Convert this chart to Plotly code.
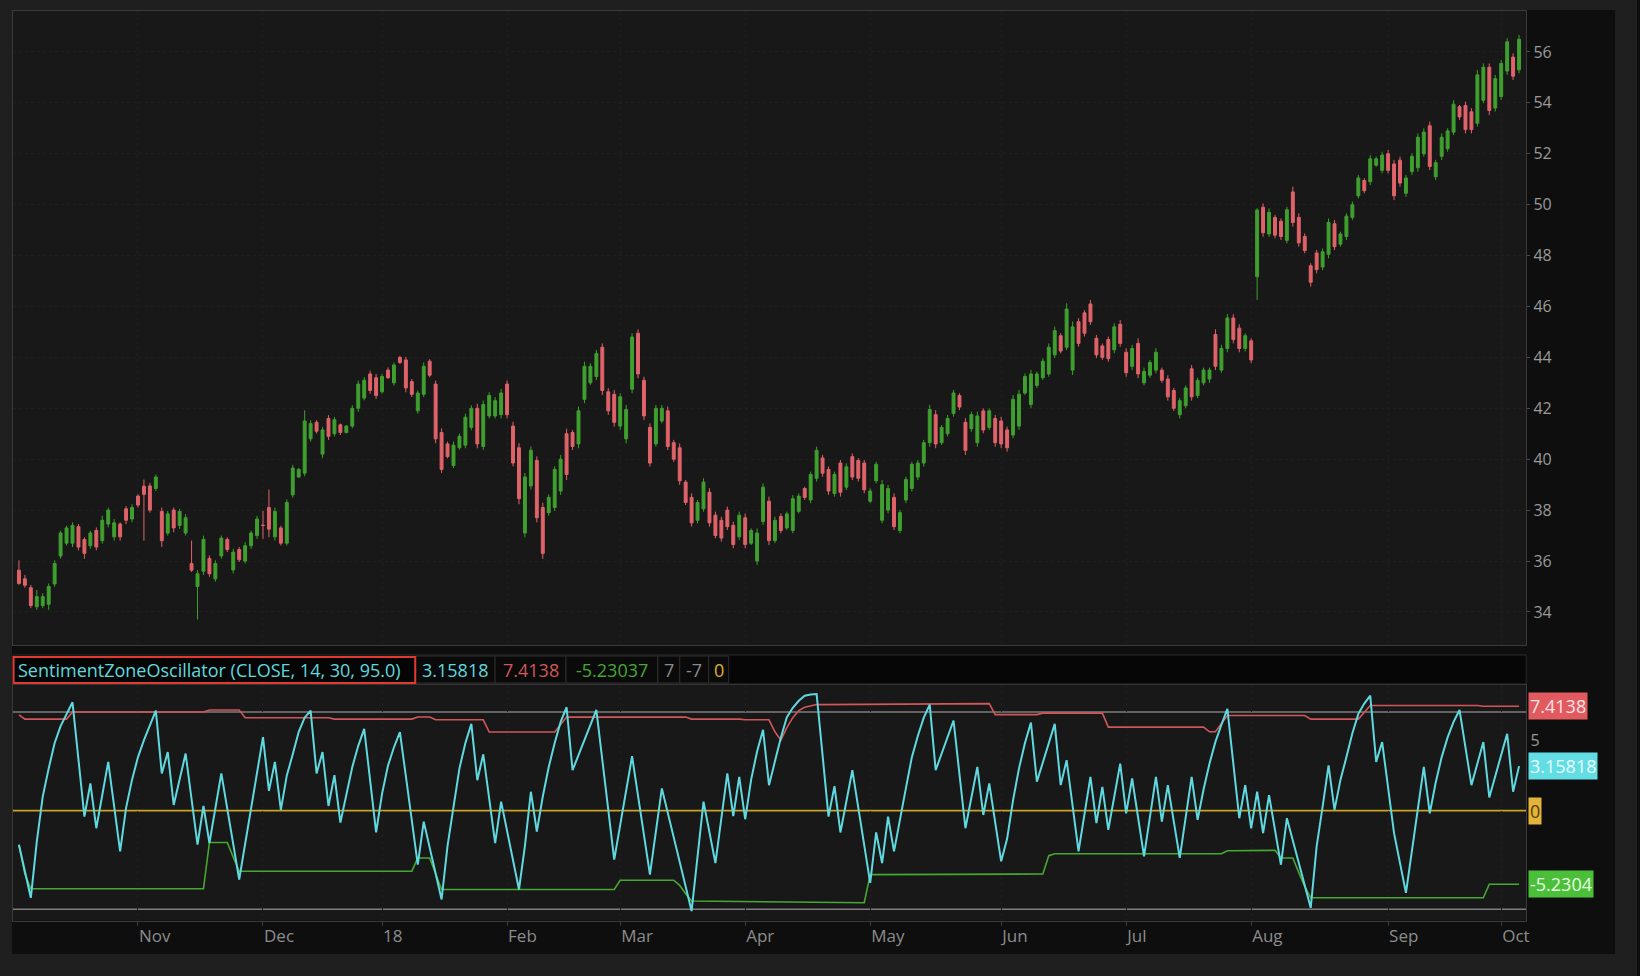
import plotly.graph_objects as go

W, H = 1640, 976

# ---------------- price data (one bar per trading day, Oct-2017 .. Oct-2018) ----------------
open_ = [
    35.64, 35.30, 34.95, 34.20, 34.25, 34.30, 35.10, 36.20, 36.70, 36.70,
    37.35, 36.85, 36.60, 37.20, 36.80, 37.45, 36.95, 37.45, 38.05, 37.65,
    38.55, 38.94, 38.95, 38.85, 37.95, 37.10, 38.00, 37.40, 37.10, 35.90,
    35.00, 35.60, 36.10, 35.30, 36.20, 36.85, 35.65, 36.45, 36.00, 36.60,
    37.00, 37.40, 38.10, 36.95, 37.30, 36.70, 38.60, 39.30, 39.45, 40.80,
    41.45, 40.20, 41.60, 41.00, 41.35, 41.05, 41.30, 42.00, 42.40, 43.35,
    43.20, 42.65, 43.50, 43.00, 44.00, 43.90, 43.05, 41.90, 42.55, 43.85,
    42.95, 41.05, 40.60, 39.75, 40.45, 40.55, 41.25, 42.00, 40.50, 41.70,
    41.70, 41.75, 42.95, 41.30, 40.45, 37.10, 38.95, 39.95, 38.10, 37.90,
    38.10, 38.75, 41.00, 41.05, 40.60, 42.35, 43.00, 43.25, 44.40, 42.65,
    42.55, 41.30, 40.80, 42.75, 44.95, 43.10, 41.25, 40.60, 41.50, 41.90,
    40.65, 40.45, 39.10, 38.50, 37.60, 38.05, 38.70, 37.80, 37.60, 38.00,
    37.40, 36.95, 37.70, 36.70, 36.00, 37.55, 38.35, 36.80, 37.75, 37.30,
    37.20, 37.95, 38.85, 38.40, 39.25, 40.05, 39.60, 38.65, 39.85, 38.90,
    40.10, 39.95, 39.85, 38.35, 39.15, 37.60, 38.00, 38.50, 37.20, 38.40,
    38.85, 39.30, 39.85, 40.65, 41.75, 40.65, 41.00, 41.80, 42.50, 41.45,
    41.20, 40.65, 41.90, 41.25, 41.60, 41.50, 41.15, 40.95, 41.30, 42.60,
    42.15, 42.90, 43.20, 43.35, 44.10, 44.85, 44.40, 43.50, 45.40, 45.75,
    46.10, 44.75, 44.45, 44.70, 44.30, 45.30, 44.20, 43.65, 44.55, 43.00,
    43.30, 43.50, 43.50, 43.15, 42.70, 41.75, 42.10, 43.55, 42.50, 43.00,
    43.15, 44.90, 43.50, 44.35, 45.55, 45.15, 44.35, 44.65, 47.17, 49.90,
    48.85, 49.50, 49.35, 48.60, 50.50, 49.50, 48.75, 47.60, 48.10, 47.55,
    48.05, 49.25, 48.45, 48.75, 49.50, 50.35, 50.95, 50.90, 51.55, 51.35,
    52.00, 51.60, 51.75, 50.45, 51.30, 51.45, 52.00, 53.10, 51.10, 51.90,
    52.20, 52.85, 53.85, 53.90, 53.65, 53.20, 54.10, 55.40, 53.80, 54.25,
    55.25, 55.80, 55.30,
]
high = [
    36.03, 35.45, 35.06, 34.86, 34.73, 35.12, 36.03, 37.19, 37.39, 37.52,
    37.45, 36.93, 37.19, 37.32, 37.78, 38.10, 37.65, 37.52, 38.16, 38.23,
    38.62, 39.20, 39.07, 39.40, 38.10, 37.97, 38.10, 38.04, 37.84, 36.80,
    35.64, 37.00, 36.22, 36.03, 37.00, 36.93, 36.48, 36.55, 36.74, 37.19,
    37.78, 37.97, 38.81, 38.10, 37.39, 38.42, 39.78, 39.65, 41.92, 41.53,
    41.53, 41.27, 41.73, 41.66, 41.40, 41.34, 42.12, 43.09, 43.22, 43.48,
    43.35, 43.35, 43.61, 43.80, 44.06, 44.02, 43.15, 42.70, 43.80, 43.93,
    43.09, 41.21, 40.69, 40.69, 41.01, 41.79, 42.12, 42.18, 42.31, 42.63,
    42.44, 42.76, 43.09, 41.47, 40.63, 39.46, 40.50, 40.11, 38.29, 38.62,
    39.72, 40.17, 41.20, 41.15, 42.07, 43.83, 43.77, 44.29, 44.55, 42.79,
    42.72, 42.59, 42.13, 44.95, 45.10, 43.24, 41.41, 42.13, 42.13, 42.07,
    40.76, 40.62, 39.18, 38.66, 38.40, 39.25, 38.86, 37.94, 37.74, 38.14,
    37.55, 37.94, 37.87, 37.28, 37.28, 39.05, 38.53, 37.74, 37.87, 37.94,
    38.59, 38.66, 38.92, 39.51, 40.49, 40.17, 39.71, 39.51, 39.97, 39.84,
    40.23, 40.04, 39.97, 38.86, 39.90, 39.18, 38.99, 38.66, 38.01, 39.31,
    39.90, 39.97, 40.76, 42.13, 41.93, 41.34, 41.74, 42.72, 42.59, 41.61,
    41.87, 41.87, 42.00, 42.00, 41.74, 41.67, 41.28, 42.52, 42.72, 43.37,
    43.51, 43.44, 43.97, 44.55, 45.21, 44.95, 46.13, 45.41, 45.54, 45.86,
    46.26, 44.88, 44.55, 44.82, 45.34, 45.47, 44.36, 44.49, 44.75, 43.60,
    43.90, 44.36, 43.60, 43.30, 42.80, 42.40, 42.90, 43.70, 43.20, 43.60,
    43.60, 45.10, 44.50, 45.70, 45.70, 45.30, 44.95, 44.75, 49.86, 50.05,
    49.86, 49.60, 49.46, 49.92, 50.71, 49.66, 48.87, 47.70, 48.22, 48.28,
    49.46, 49.40, 48.94, 49.66, 50.12, 51.17, 51.04, 51.95, 51.89, 52.08,
    52.15, 51.76, 51.89, 51.17, 52.02, 52.80, 53.00, 53.26, 51.76, 52.80,
    53.00, 54.10, 53.92, 54.05, 53.79, 55.29, 55.55, 55.55, 55.10, 55.69,
    56.54, 55.95, 56.67,
]
low = [
    35.06, 34.95, 34.15, 34.08, 34.15, 34.08, 34.99, 36.09, 36.61, 36.55,
    36.42, 36.09, 36.48, 36.42, 36.68, 37.32, 36.80, 36.80, 37.45, 37.52,
    38.10, 36.80, 37.90, 38.75, 36.55, 37.00, 37.13, 37.26, 37.00, 35.57,
    33.70, 35.45, 35.38, 35.19, 36.09, 36.35, 35.51, 35.96, 35.90, 36.48,
    36.87, 36.87, 36.93, 36.80, 36.61, 36.61, 38.49, 39.27, 39.33, 40.69,
    41.01, 40.04, 40.76, 40.89, 40.95, 41.01, 41.21, 41.86, 42.31, 42.57,
    42.37, 42.57, 43.15, 42.89, 43.74, 42.63, 42.44, 41.79, 42.44, 43.22,
    40.63, 39.46, 40.04, 39.65, 40.37, 40.43, 41.14, 40.43, 40.37, 41.60,
    41.60, 41.60, 41.60, 39.72, 38.23, 36.93, 38.81, 37.52, 36.09, 37.78,
    37.97, 38.60, 39.18, 40.36, 40.43, 42.20, 42.92, 43.11, 42.52, 41.74,
    41.28, 41.15, 40.62, 42.59, 43.18, 41.54, 39.71, 40.49, 41.41, 40.36,
    39.90, 38.99, 38.20, 37.35, 37.48, 37.94, 37.35, 36.89, 36.76, 37.22,
    36.50, 36.83, 36.50, 36.63, 35.84, 37.42, 36.63, 36.70, 37.09, 37.22,
    37.09, 37.87, 38.40, 38.27, 39.12, 39.31, 38.60, 38.53, 38.53, 38.79,
    39.18, 39.12, 38.66, 38.27, 39.05, 37.48, 37.87, 37.22, 37.09, 38.27,
    38.73, 39.18, 39.71, 40.49, 40.43, 40.56, 40.89, 41.67, 41.93, 40.17,
    41.08, 40.49, 41.02, 41.15, 40.49, 40.43, 40.30, 40.82, 41.15, 42.52,
    42.00, 42.79, 43.11, 43.24, 43.97, 44.16, 44.29, 43.31, 44.42, 44.82,
    45.27, 43.97, 43.90, 43.83, 44.16, 44.42, 43.24, 43.50, 43.18, 42.90,
    43.20, 43.37, 43.00, 42.30, 41.90, 41.60, 42.00, 42.30, 42.40, 42.90,
    43.00, 43.50, 43.40, 44.20, 44.55, 44.20, 44.23, 43.77, 46.26, 48.74,
    48.74, 48.68, 48.61, 48.48, 49.14, 48.35, 48.09, 46.78, 47.30, 47.43,
    47.89, 48.22, 48.35, 48.61, 49.40, 50.25, 50.45, 50.77, 51.49, 51.23,
    51.23, 50.18, 50.71, 50.30, 51.17, 51.30, 51.89, 51.36, 50.97, 51.76,
    52.08, 52.74, 53.33, 52.80, 52.80, 53.07, 53.98, 53.52, 53.66, 54.11,
    55.10, 54.90, 55.16,
]
close = [
    35.12, 35.05, 34.25, 34.60, 34.60, 35.00, 35.90, 37.10, 37.30, 37.40,
    36.55, 36.30, 37.10, 36.55, 37.60, 38.00, 37.50, 36.95, 37.60, 38.10,
    38.20, 38.62, 38.00, 39.30, 36.80, 37.85, 37.30, 37.95, 37.70, 35.64,
    35.50, 36.85, 35.50, 35.90, 36.90, 36.45, 36.35, 36.05, 36.60, 37.10,
    37.65, 37.40, 37.25, 37.95, 36.70, 38.30, 39.65, 39.60, 41.50, 41.40,
    41.10, 41.15, 40.90, 41.55, 41.05, 41.30, 42.00, 42.95, 43.10, 42.70,
    42.50, 43.25, 43.20, 43.70, 43.80, 42.80, 42.55, 42.60, 43.65, 43.30,
    40.80, 39.60, 40.10, 40.55, 40.90, 41.65, 42.00, 40.60, 42.15, 42.50,
    42.30, 42.60, 41.75, 39.85, 38.45, 39.30, 40.35, 37.70, 36.30, 38.50,
    39.60, 40.00, 39.40, 40.50, 41.90, 43.65, 43.65, 44.15, 42.70, 41.90,
    41.45, 42.45, 41.95, 44.80, 43.35, 41.70, 39.85, 42.00, 42.00, 40.50,
    40.00, 39.15, 38.30, 37.50, 38.30, 39.10, 37.50, 37.00, 36.90, 37.35,
    36.65, 37.80, 36.65, 37.20, 37.10, 38.90, 36.80, 37.60, 37.20, 37.85,
    38.45, 38.55, 38.50, 39.40, 40.35, 39.45, 38.75, 39.40, 38.70, 39.70,
    39.30, 39.25, 38.80, 38.75, 39.80, 39.00, 38.85, 37.35, 37.90, 39.20,
    39.80, 39.85, 40.65, 41.95, 40.60, 41.25, 41.60, 42.60, 42.05, 40.35,
    41.75, 41.70, 41.15, 41.90, 40.65, 40.60, 40.45, 42.35, 42.55, 43.25,
    43.35, 43.35, 43.85, 44.40, 45.05, 44.25, 45.90, 45.20, 44.55, 44.95,
    45.40, 44.10, 44.00, 43.95, 45.20, 44.55, 43.40, 44.35, 43.35, 43.45,
    43.80, 44.20, 43.10, 42.45, 42.00, 42.30, 42.80, 42.45, 43.10, 43.50,
    43.50, 43.65, 44.35, 45.55, 44.70, 44.35, 44.85, 43.90, 49.79, 48.90,
    49.70, 48.80, 48.75, 49.80, 49.30, 48.50, 48.20, 46.95, 47.45, 48.15,
    49.30, 48.35, 48.85, 49.55, 50.00, 51.05, 50.55, 51.80, 51.80, 51.95,
    51.35, 50.35, 50.85, 51.05, 51.90, 52.65, 52.85, 51.50, 51.65, 52.65,
    52.90, 53.95, 53.45, 52.95, 52.95, 55.10, 55.40, 53.70, 54.95, 55.55,
    56.40, 55.05, 56.50,
]
bar_idx = list(range(len(close)))

# month starts (bar index) and their axis labels
month_idx = [20, 41, 61, 82, 101, 122, 143, 165, 186, 207, 230, 249]
month_lbl = ["Nov", "Dec", "18", "Feb", "Mar", "Apr", "May", "Jun", "Jul", "Aug", "Sep", "Oct"]
price_ticks = [34, 36, 38, 40, 42, 44, 46, 48, 50, 52, 54, 56]

# ---------------- SentimentZoneOscillator (vertices of each line, bar index / value) ----------------
szo_idx = [0, 2, 3, 4, 5, 6, 7, 8, 9, 11, 12, 13, 15, 17, 18, 19, 20, 21, 22, 23, 24, 25, 26, 28, 30, 31,
           32, 34, 37, 41, 42, 43, 44, 45, 46, 47, 48, 49, 50, 51, 52, 53, 54, 55, 56, 57, 58, 60, 61, 62,
           63, 64, 67, 68, 71, 72, 73, 74, 75, 76, 77, 78, 80, 81, 84, 85, 86, 87, 88, 89, 90, 91, 92, 93,
           97, 100, 103, 106, 108, 113, 115, 117, 119, 120, 121, 122, 123, 124, 125, 126, 127, 128, 129,
           130, 131, 132, 133, 134, 136, 137, 138, 140, 143, 144, 145, 146, 147, 148, 149, 150, 151, 152,
           153, 154, 157, 159, 161, 162, 163, 165, 166, 167, 168, 169, 170, 171, 174, 175, 176, 178, 180,
           181, 182, 183, 185, 186, 187, 189, 191, 192, 193, 195, 197, 198, 199, 200, 201, 202, 203, 205,
           206, 207, 208, 209, 210, 212, 213, 217, 218, 219, 220, 221, 222, 223, 224, 225, 226, 227, 228,
           229, 231, 233, 236, 237, 238, 239, 240, 241, 242, 244, 246, 247, 250, 251, 252]
szo_val = [-2.42, -6.19, -2.2, 1.0, 3.0, 4.8, 6.0, 6.9, 7.69, -0.42, 1.93, -1.25, 3.46, -2.89, 0.2, 2.2, 3.8,
           5.0, 6.1, 7.1, 2.64, 4.16, 0.4, 4.05, -2.42, 0.33, -2.3, 2.64, -4.89, 5.22, 1.4, 3.46, 0.05, 2.5,
           4.0, 5.6, 6.6, 7.1, 2.64, 4.16, 0.33, 2.52, -0.85, 1.2, 3.1, 4.6, 5.81, -1.55, 1.2, 3.2, 4.5,
           5.58, -3.84, -0.78, -6.31, -2.5, 0.28, 3.0, 4.8, 6.16, 2.16, 4.0, -2.3, 0.64, -5.6, -2.5, 1.34,
           -1.48, 1.0, 3.1, 4.8, 6.3, 7.34, 2.87, 7.15, -3.48, 3.86, -4.54, 1.58, -7.13, 0.64, -3.72, 2.64,
           -0.38, 2.4, -0.61, 2.2, 4.2, 5.74, 1.81, 3.5, 5.2, 6.64, 7.3, 7.8, 8.16, 8.25, 8.28, -0.42, 1.74,
           -1.55, 2.87, -5.13, -1.55, -3.72, -0.42, -2.89, -0.5, 1.6, 3.8, 5.3, 6.6, 7.53, 2.87, 6.4, -1.25,
           3.1, -0.31, 1.93, -3.6, -2.0, 0.75, 3.0, 4.8, 6.25, 2.05, 6.16, 1.81, 3.58, -2.89, 2.4, -0.89,
           1.69, -1.36, 3.34, -0.19, 2.28, -3.25, 2.4, -0.78, 1.81, -3.36, 2.4, -0.66, 1.5, 3.34, 4.9, 6.1,
           7.22, -0.54, 1.81, -1.25, 1.34, -1.6, 1.1, -3.84, -0.54, -6.9, -2.54, 0.28, 3.22, 0.05, 2.2, 3.8,
           5.5, 6.87, 7.6, 8.16, 3.46, 4.87, -1.6, -5.84, 3.1, -0.19, 2.0, 3.8, 5.2, 6.3, 7.15, 1.81, 4.87,
           0.94, 5.46, 1.34, 3.16]
upper_idx = [0, 1, 8, 9, 31, 32, 37, 38, 52, 53, 66, 67, 69, 70, 78, 79, 90, 91, 92, 112, 113, 121, 122, 126,
             127, 128, 129, 130, 131, 132, 134, 163, 164, 171, 172, 182, 183, 199, 200, 201, 202, 203, 216,
             217, 225, 226, 227, 245, 246, 252]
upper_val = [6.8, 6.5, 6.5, 7.0, 7.0, 7.15, 7.15, 6.6, 6.6, 6.5, 6.5, 6.65, 6.65, 6.45, 6.45, 5.58, 5.58, 6.1,
             6.64, 6.64, 6.5, 6.5, 6.45, 6.45, 5.6, 5.0, 5.9, 6.6, 7.1, 7.34, 7.53, 7.6, 6.82, 6.82, 6.92,
             6.92, 5.93, 5.93, 5.6, 5.6, 6.2, 6.75, 6.75, 6.5, 6.5, 7.0, 7.46, 7.46, 7.41, 7.41]
lower_idx = [0, 1, 2, 31, 32, 35, 36, 37, 66, 67, 69, 70, 71, 100, 101, 110, 111, 112, 113, 142, 143, 172,
             173, 174, 202, 203, 211, 212, 214, 215, 216, 217, 246, 247, 252]
lower_val = [-2.42, -4.5, -5.55, -5.55, -2.26, -2.26, -3.3, -4.3, -4.3, -3.36, -3.36, -4.5, -5.6, -5.6, -4.94,
             -4.94, -5.3, -5.9, -6.42, -6.54, -4.54, -4.5, -3.2, -3.06, -3.06, -2.85, -2.82, -3.36, -3.36,
             -4.4, -5.4, -6.19, -6.19, -5.23, -5.23]
osc_levels = [7, -7]
last_vals = {"szo": 3.15818, "upper": 7.4138, "lower": -5.2304, "zero": 0}
header_vals = ["3.15818", "7.4138", "-5.23037", "7", "-7", "0"]

# ---------------- colours ----------------
GREEN = "#3f9f2f"
RED = "#e0636a"
CYAN = "#5fd9df"
BAND_RED = "#d0575a"
BAND_GREEN = "#46a832"
YELLOW = "#c9a227"
GRID = "#1f1f1f"
TXT = "#9a9a9a"
FONT = "Open Sans"
OUTER = "#1f1f1f"


def fx(px):
    return px / W


def fy(py):
    return 1 - py / H


fig = go.Figure()

fig.add_trace(go.Candlestick(
    x=bar_idx, open=open_, high=high, low=low, close=close,
    increasing=dict(line=dict(color=GREEN, width=1), fillcolor=GREEN),
    decreasing=dict(line=dict(color=RED, width=1), fillcolor=RED),
    whiskerwidth=0, xaxis="x", yaxis="y", showlegend=False, hoverinfo="skip",
))

fig.add_trace(go.Scatter(x=upper_idx, y=upper_val, mode="lines", line=dict(color=BAND_RED, width=1.6),
                         xaxis="x2", yaxis="y2", showlegend=False, hoverinfo="skip"))
fig.add_trace(go.Scatter(x=lower_idx, y=lower_val, mode="lines", line=dict(color=BAND_GREEN, width=1.6),
                         xaxis="x2", yaxis="y2", showlegend=False, hoverinfo="skip"))
fig.add_trace(go.Scatter(x=szo_idx, y=szo_val, mode="lines", line=dict(color=CYAN, width=2),
                         xaxis="x2", yaxis="y2", showlegend=False, hoverinfo="skip"))

PX_L, PX_R = 13, 1529
xr = [-1, len(close) + 0.2]
dom_x = [fx(PX_L), fx(PX_R)]

common_x = dict(range=xr, domain=dom_x, showline=True, linecolor="#3a3a3a", mirror=True,
                tickmode="array", zeroline=False,
                showgrid=True, gridcolor=GRID, griddash="dot", gridwidth=1)

shapes = [
    # light outer frame around the dark application area
    dict(type="rect", xref="paper", yref="paper", x0=0, x1=1, y0=fy(10), y1=1,
         fillcolor=OUTER, line=dict(width=0), layer="below"),
    dict(type="rect", xref="paper", yref="paper", x0=0, x1=1, y0=0, y1=fy(954),
         fillcolor=OUTER, line=dict(width=0), layer="below"),
    dict(type="rect", xref="paper", yref="paper", x0=0, x1=fx(12), y0=0, y1=1,
         fillcolor=OUTER, line=dict(width=0), layer="below"),
    dict(type="rect", xref="paper", yref="paper", x0=fx(1618), x1=1, y0=0, y1=1,
         fillcolor=OUTER, line=dict(width=0), layer="below"),
    # header strip
    dict(type="rect", xref="paper", yref="paper", x0=fx(PX_L), x1=fx(PX_R), y0=fy(684), y1=fy(655),
         fillcolor="#060606", line=dict(color="#2c2c2c", width=1), layer="above"),
]
# oscillator reference levels
for lv in osc_levels:
    shapes.append(dict(type="line", xref="x2 domain", yref="y2", x0=0, x1=1, y0=lv, y1=lv,
                       line=dict(color="#7d7d7d", width=1.6), layer="below"))
shapes.append(dict(type="line", xref="x2 domain", yref="y2", x0=0, x1=1, y0=last_vals["zero"],
                   y1=last_vals["zero"], line=dict(color=YELLOW, width=1.6), layer="below"))

# header boxes
box_edges = [13.6, 416, 496, 567, 659, 681, 710, 730]
box_cols = [CYAN, BAND_RED, BAND_GREEN, "#8a8a8a", "#8a8a8a", "#e0b030"]
for k in range(1, len(box_edges) - 1):
    shapes.append(dict(type="rect", xref="paper", yref="paper", x0=fx(box_edges[k]), x1=fx(box_edges[k + 1]),
                       y0=fy(683), y1=fy(656), fillcolor="#0a0a0a", line=dict(color="#2e2e2e", width=1),
                       layer="above"))
shapes.append(dict(type="rect", xref="paper", yref="paper", x0=fx(box_edges[0]), x1=fx(box_edges[1]),
                   y0=fy(683), y1=fy(657), fillcolor="#050505", line=dict(color="#e23a2e", width=2),
                   layer="above"))

annotations = [
    dict(xref="paper", yref="paper", x=fx(16), y=fy(670), xanchor="left", yanchor="middle",
         text="SentimentZoneOscillator (CLOSE, 14, 30, 95.0)", showarrow=False,
         font=dict(family=FONT, size=18, color=CYAN)),
]
for k, (t, c) in enumerate(zip(header_vals, box_cols)):
    cx = (box_edges[k + 1] + box_edges[k + 2]) / 2
    annotations.append(dict(xref="paper", yref="paper", x=fx(cx), y=fy(670), xanchor="center",
                            yanchor="middle", text=t, showarrow=False,
                            font=dict(family=FONT, size=18, color=c)))

# right-side value bubbles
bubbles = [
    (last_vals["upper"], "7.4138", "#e05a5f", "#ffe3e3"),
    (last_vals["szo"], "3.15818", "#62dde4", "#e9fdff"),
    (last_vals["zero"], "0", "#e3b43a", "#5a3d00"),
    (last_vals["lower"], "-5.2304", "#4cbf3a", "#e6ffe0"),
]
for val, t, bg, fc in bubbles:
    annotations.append(dict(xref="paper", yref="y2", x=fx(1531), y=val, xanchor="left", yanchor="middle",
                            text=t, showarrow=False, bgcolor=bg, borderpad=1,
                            font=dict(family=FONT, size=18, color=fc)))

fig.update_layout(
    width=W, height=H, autosize=False,
    margin=dict(l=0, r=0, t=0, b=0),
    paper_bgcolor="#0e0e0e", plot_bgcolor="#181818",
    font=dict(family=FONT, color=TXT),
    showlegend=False,
    xaxis=dict(common_x, anchor="y", tickvals=month_idx, showticklabels=False, ticks="",
               rangeslider=dict(visible=False)),
    yaxis=dict(domain=[fy(645), fy(11)], range=[32.7, 57.61], side="right", anchor="x",
               tickmode="array", tickvals=price_ticks, ticks="outside", ticklen=3, tickcolor="#4a4a4a",
               tickfont=dict(family=FONT, size=16, color=TXT), showline=True, linecolor="#3a3a3a",
               mirror=True, showgrid=True, gridcolor=GRID, griddash="dot", zeroline=False),
    xaxis2=dict(common_x, anchor="y2", matches="x", tickvals=month_idx, ticktext=month_lbl,
                ticks="outside", ticklen=4, tickcolor="#3a3a3a", ticklabelposition="outside right",
                tickfont=dict(family=FONT, size=17, color="#8c8c8c")),
    yaxis2=dict(domain=[fy(920.5), fy(685)], range=[-7.8, 8.92], side="right", anchor="x2",
                tickmode="array", tickvals=[5], ticktext=["5"], ticks="", showgrid=False,
                tickfont=dict(family=FONT, size=16, color=TXT), showline=True, linecolor="#3a3a3a",
                mirror=True, zeroline=False),
    shapes=shapes,
    annotations=annotations,
)

fig.write_html("out.html", config={"displayModeBar": False},
               post_script="document.body.style.margin='0';document.body.style.background='#1f1f1f';")
